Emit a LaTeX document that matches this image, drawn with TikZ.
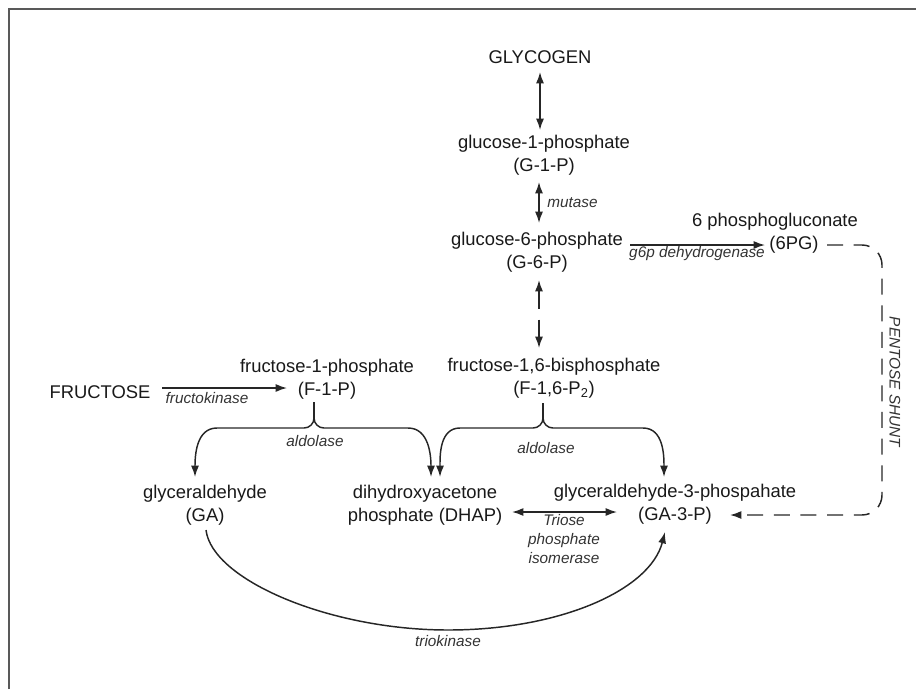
\documentclass[tikz,border=0pt]{standalone}
\usepackage{fontspec}
\setmainfont{Liberation Sans}
\usetikzlibrary{arrows.meta,calc}
\begin{document}
\begin{tikzpicture}[x=0.75pt,y=-0.75pt,
  main/.style={font=\fontsize{13.8}{17.25}\selectfont, text=black!90, align=center, inner sep=0pt},
  enz/.style={font=\fontsize{11.5}{14.25}\selectfont\itshape, text=black!80, align=center, inner sep=0pt},
  link/.style={draw=black!85, line width=1.1pt},
  arr/.style={link, -{Latex[length=8.5pt,width=6pt]}},
  darr/.style={link, {Latex[length=8.5pt,width=6pt]}-{Latex[length=8.5pt,width=6pt]}},
  dashdarr/.style={darr, dash pattern=on 13.5pt off 8.25pt},
  shunt/.style={arr, dash pattern=on 12pt off 8pt, rounded corners=15pt},
  frame/.style={draw=black!65, line width=1.5pt}
]
\useasboundingbox (0,0) rectangle (916,689);
\draw[frame] (9,689) -- (9,9) -- (916,9);

% metabolites
\node[main] (glycogen) at (540,57) {GLYCOGEN};
\node[main] (g1p) at (544,155) {glucose-1-phosphate\\(G-1-P)};
\node[main] (g6p) at (537,252) {glucose-6-phosphate\\(G-6-P)};
\node[main] (pg6a) at (775,222) {6 phosphogluconate};
\node[main] (pg6) at (794,245) {(6PG)};
\node[main] (f16bp) at (554,378) {fructose-1,6-bisphosphate\\(F-1,6-P\textsubscript{2})};
\node[main] (f1p) at (327,379) {fructose-1-phosphate\\(F-1-P)};
\node[main] (fructose) at (100,392) {FRUCTOSE};
\node[main] (ga) at (205,505) {glyceraldehyde\\(GA)};
\node[main] (dhap) at (425,505) {dihydroxyacetone\\phosphate (DHAP)};
\node[main] (ga3p) at (675,504) {glyceraldehyde-3-phospahate\\(GA-3-P)};

% enzyme labels
\node[enz, anchor=west] (mutase) at (547,203) {mutase};
\node[enz] (g6pdh) at (697,254) {g6p dehydrogenase};
\node[enz] (fk) at (207,398) {fructokinase};
\node[enz] (ald1) at (315,441) {aldolase};
\node[enz] (ald2) at (546,448) {aldolase};
\node[enz] (tpi) at (564,539) {Triose\\phosphate\\isomerase};
\node[enz] (tk) at (448,641) {triokinase};
\node[enz, rotate=-90] (ps) at (895,382) {PENTOSE SHUNT};

% connectors
\draw[darr] ($(glycogen)+(0,15)$) -- ($(g1p)+(-4,-25)$);
\draw[darr] ($(g1p)+(-5,27)$) -- ($(g6p)+(2,-29)$);
\draw[dashdarr] ($(g6p)+(2,28)$) -- ($(f16bp)+(-15,-30)$);
\draw[arr] ($(g6p)+(93,-7)$) -- ($(pg6)+(-29,0)$);
\draw[arr] ($(fructose)+(62,-4)$) -- ($(f1p)+(-40,9)$);
\draw[shunt] ($(pg6)+(33,0)$) -| ($(ga3p)+(207,11)$) -- ($(ga3p)+(55,11)$);
\draw[darr] ($(dhap)+(87,7)$) -- ($(ga3p)+(-58,8)$);

% F-1-P aldolase brace
\draw[link] ($(f1p)+(-13,23)$) -- ($(f1p)+(-13,39)$);
\draw[arr] ($(f1p)+(-13,39)$) to[out=-90,in=0] ($(f1p)+(-23,49)$) -- ($(f1p)+(-110,49)$) to[out=180,in=90] ($(ga)+(-10,-28)$);
\draw[arr] ($(f1p)+(-13,39)$) to[out=-90,in=180] ($(f1p)+(-3,49)$) -- ($(f1p)+(81,49)$) to[out=0,in=90] ($(dhap)+(6,-28)$);

% F-1,6-P2 aldolase brace
\draw[link] ($(f16bp)+(-11,25)$) -- ($(f16bp)+(-11,40)$);
\draw[arr] ($(f16bp)+(-11,40)$) to[out=-90,in=0] ($(f16bp)+(-21,50)$) -- ($(f16bp)+(-94,50)$) to[out=180,in=90] ($(dhap)+(15,-28)$);
\draw[arr] ($(f16bp)+(-11,40)$) to[out=-90,in=180] ($(f16bp)+(-1,50)$) -- ($(f16bp)+(89,50)$) to[out=0,in=90] ($(ga3p)+(-11,-27)$);

% triokinase arc
\draw[arr] ($(ga)+(1,25)$) .. controls ($(ga)+(7,75)$) and ($(ga)+(125,125)$) .. ($(ga)+(243,125)$)
  .. controls ($(ga3p)+(-115,126)$) and ($(ga3p)+(-25,86)$) .. ($(ga3p)+(-10,28)$);
\end{tikzpicture}
\end{document}
